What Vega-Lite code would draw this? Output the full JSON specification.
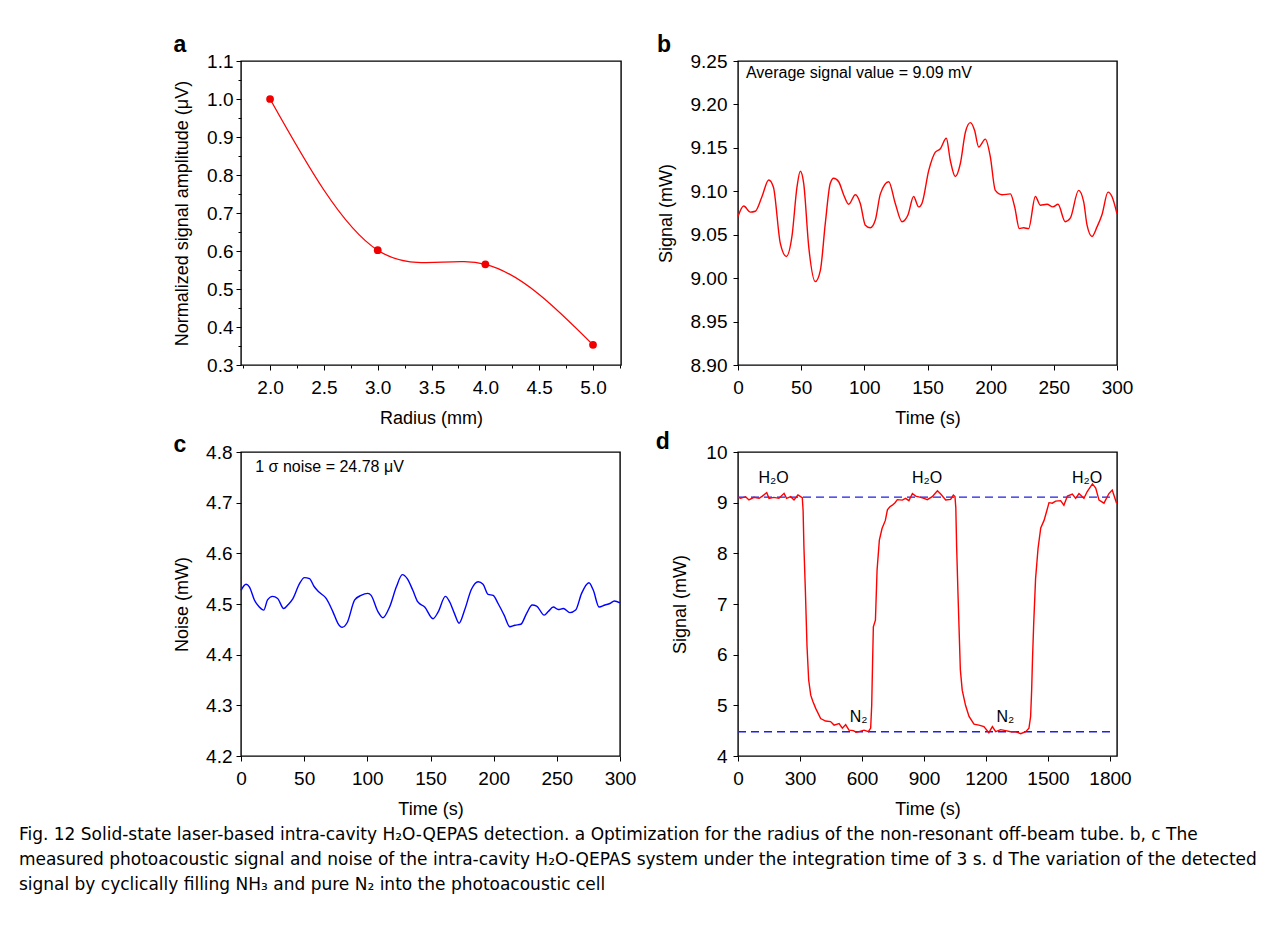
{
  "$schema": "https://vega.github.io/schema/vega-lite/v6.json",
  "background": "white",
  "padding": {"left": 18, "top": 33, "right": 5, "bottom": 5},
  "config": {
    "font": "Liberation Sans",
    "view": {"stroke": "black", "strokeWidth": 1.4},
    "axis": {
      "grid": false,
      "domain": false,
      "tickColor": "black",
      "tickWidth": 1,
      "labelColor": "black",
      "titleColor": "black",
      "labelFont": "Liberation Sans",
      "titleFont": "Liberation Sans",
      "labelFontSize": 19,
      "titleFontSize": 18,
      "titleFontWeight": "normal",
      "labelFlush": false,
      "labelOverlap": false,
      "labelBound": false
    },
    "axisX": {"labelPadding": 8, "titlePadding": 12},
    "title": {"anchor": "start", "frame": "bounds", "fontSize": 23, "fontWeight": "bold", "color": "black", "baseline": "alphabetic", "offset": -5, "font": "Liberation Sans"}
  },
  "datasets": {
    "a": [
      {"r": 2.0, "s": 1.0},
      {"r": 3.0, "s": 0.602},
      {"r": 4.0, "s": 0.565},
      {"r": 5.0, "s": 0.353}
    ],
    "b": [
      {"t": 0, "v": 9.071}, {"t": 4.5, "v": 9.083}, {"t": 9.8, "v": 9.076}, {"t": 13.7, "v": 9.077},
      {"t": 19, "v": 9.094}, {"t": 24.3, "v": 9.113}, {"t": 28, "v": 9.105}, {"t": 33.5, "v": 9.04},
      {"t": 38.3, "v": 9.025}, {"t": 42.7, "v": 9.048}, {"t": 46.7, "v": 9.105}, {"t": 49.3, "v": 9.123},
      {"t": 52, "v": 9.109}, {"t": 56, "v": 9.036}, {"t": 61.2, "v": 8.996}, {"t": 65.2, "v": 9.009},
      {"t": 69.1, "v": 9.063}, {"t": 73, "v": 9.109}, {"t": 75.7, "v": 9.115}, {"t": 79.7, "v": 9.111},
      {"t": 83.6, "v": 9.096}, {"t": 87.6, "v": 9.085}, {"t": 92.9, "v": 9.096}, {"t": 96.8, "v": 9.086},
      {"t": 100.8, "v": 9.061}, {"t": 104.7, "v": 9.058}, {"t": 108.7, "v": 9.067}, {"t": 112.7, "v": 9.097},
      {"t": 119.3, "v": 9.111}, {"t": 124.5, "v": 9.086}, {"t": 129.8, "v": 9.065}, {"t": 134.6, "v": 9.073},
      {"t": 139, "v": 9.094}, {"t": 143, "v": 9.082}, {"t": 145.6, "v": 9.086}, {"t": 151, "v": 9.124},
      {"t": 156.2, "v": 9.145}, {"t": 160.2, "v": 9.149}, {"t": 164.9, "v": 9.161}, {"t": 168, "v": 9.136},
      {"t": 172, "v": 9.117}, {"t": 176, "v": 9.132}, {"t": 180, "v": 9.168}, {"t": 183.9, "v": 9.179},
      {"t": 187.3, "v": 9.17}, {"t": 190.5, "v": 9.151}, {"t": 195.8, "v": 9.16}, {"t": 199.7, "v": 9.14},
      {"t": 203.7, "v": 9.101}, {"t": 209, "v": 9.096}, {"t": 215.6, "v": 9.097}, {"t": 219, "v": 9.082},
      {"t": 222.7, "v": 9.057}, {"t": 226.1, "v": 9.058}, {"t": 230, "v": 9.057}, {"t": 235.4, "v": 9.094},
      {"t": 239.3, "v": 9.084}, {"t": 244.6, "v": 9.085}, {"t": 249.3, "v": 9.082}, {"t": 253.3, "v": 9.085},
      {"t": 259, "v": 9.065}, {"t": 263, "v": 9.069}, {"t": 269.6, "v": 9.101}, {"t": 273.6, "v": 9.088},
      {"t": 276.3, "v": 9.061}, {"t": 280.2, "v": 9.048}, {"t": 284.2, "v": 9.059}, {"t": 288.1, "v": 9.073},
      {"t": 292.9, "v": 9.099}, {"t": 296, "v": 9.094}, {"t": 300, "v": 9.074}
    ],
    "c": [
      {"t": 0, "v": 4.527}, {"t": 4, "v": 4.539}, {"t": 6.6, "v": 4.534}, {"t": 10.6, "v": 4.508},
      {"t": 14.5, "v": 4.494}, {"t": 18, "v": 4.488}, {"t": 21, "v": 4.508}, {"t": 25, "v": 4.515},
      {"t": 29, "v": 4.511}, {"t": 33.8, "v": 4.491}, {"t": 37, "v": 4.498}, {"t": 41, "v": 4.51},
      {"t": 46.3, "v": 4.54}, {"t": 50.2, "v": 4.552}, {"t": 54.2, "v": 4.55}, {"t": 58, "v": 4.534},
      {"t": 62, "v": 4.523}, {"t": 67.4, "v": 4.511}, {"t": 72.7, "v": 4.485}, {"t": 76.7, "v": 4.462},
      {"t": 80, "v": 4.454}, {"t": 84, "v": 4.463}, {"t": 90, "v": 4.508}, {"t": 95, "v": 4.517},
      {"t": 100.4, "v": 4.521}, {"t": 103, "v": 4.517}, {"t": 108.4, "v": 4.485}, {"t": 112.3, "v": 4.473},
      {"t": 117.6, "v": 4.494}, {"t": 123, "v": 4.534}, {"t": 127.7, "v": 4.558}, {"t": 131.6, "v": 4.55},
      {"t": 136, "v": 4.527}, {"t": 140, "v": 4.504}, {"t": 145.4, "v": 4.494}, {"t": 152, "v": 4.471},
      {"t": 156, "v": 4.484}, {"t": 161.8, "v": 4.515}, {"t": 165.2, "v": 4.504}, {"t": 169, "v": 4.481},
      {"t": 172.6, "v": 4.462}, {"t": 177, "v": 4.488}, {"t": 182.4, "v": 4.529}, {"t": 187.7, "v": 4.544},
      {"t": 191.6, "v": 4.539}, {"t": 195.6, "v": 4.519}, {"t": 199.6, "v": 4.517}, {"t": 203.5, "v": 4.501},
      {"t": 208.3, "v": 4.478}, {"t": 212.8, "v": 4.455}, {"t": 216.8, "v": 4.458}, {"t": 221.5, "v": 4.46},
      {"t": 226, "v": 4.481}, {"t": 230.5, "v": 4.498}, {"t": 234, "v": 4.496}, {"t": 240, "v": 4.478},
      {"t": 243.2, "v": 4.485}, {"t": 247.2, "v": 4.494}, {"t": 251.1, "v": 4.489}, {"t": 255.1, "v": 4.491},
      {"t": 260.4, "v": 4.483}, {"t": 264.9, "v": 4.488}, {"t": 269.6, "v": 4.521}, {"t": 275.4, "v": 4.542},
      {"t": 278.9, "v": 4.527}, {"t": 283.4, "v": 4.494}, {"t": 288.1, "v": 4.498}, {"t": 292, "v": 4.501},
      {"t": 295.5, "v": 4.506}, {"t": 300, "v": 4.502}
    ],
    "d": [
      {"t": 0, "v": 9.11}, {"t": 13, "v": 9.085}, {"t": 37, "v": 9.118}, {"t": 53, "v": 9.053},
      {"t": 77, "v": 9.105}, {"t": 102, "v": 9.085}, {"t": 118, "v": 9.13}, {"t": 139, "v": 9.2},
      {"t": 150, "v": 9.085}, {"t": 174, "v": 9.105}, {"t": 198, "v": 9.085}, {"t": 223, "v": 9.184},
      {"t": 235, "v": 9.085}, {"t": 255, "v": 9.118}, {"t": 271, "v": 9.053}, {"t": 290, "v": 9.151},
      {"t": 303, "v": 9.118}, {"t": 311, "v": 9.1}, {"t": 315, "v": 8.85}, {"t": 319, "v": 8.13},
      {"t": 326, "v": 7.27}, {"t": 334, "v": 6.16}, {"t": 342, "v": 5.5}, {"t": 352, "v": 5.2},
      {"t": 362, "v": 5.08}, {"t": 376, "v": 4.94}, {"t": 400, "v": 4.74}, {"t": 424, "v": 4.69},
      {"t": 448, "v": 4.68}, {"t": 465, "v": 4.61}, {"t": 489, "v": 4.64}, {"t": 505, "v": 4.55},
      {"t": 521, "v": 4.62}, {"t": 537, "v": 4.51}, {"t": 558, "v": 4.5}, {"t": 572, "v": 4.47},
      {"t": 586, "v": 4.48}, {"t": 610, "v": 4.51}, {"t": 631, "v": 4.48}, {"t": 642, "v": 4.55},
      {"t": 647, "v": 5.0}, {"t": 651, "v": 5.8}, {"t": 655, "v": 6.55}, {"t": 665, "v": 6.68},
      {"t": 673, "v": 7.67}, {"t": 684, "v": 8.26}, {"t": 697, "v": 8.49}, {"t": 713, "v": 8.65},
      {"t": 723, "v": 8.86}, {"t": 735, "v": 8.92}, {"t": 747, "v": 8.95}, {"t": 760, "v": 9.0},
      {"t": 771, "v": 9.06}, {"t": 795, "v": 9.05}, {"t": 811, "v": 9.085}, {"t": 827, "v": 9.04},
      {"t": 844, "v": 9.18}, {"t": 860, "v": 9.13}, {"t": 884, "v": 9.105}, {"t": 900, "v": 9.085},
      {"t": 916, "v": 9.06}, {"t": 940, "v": 9.118}, {"t": 965, "v": 9.236}, {"t": 981, "v": 9.17},
      {"t": 1005, "v": 9.053}, {"t": 1029, "v": 9.066}, {"t": 1042, "v": 9.15}, {"t": 1050, "v": 9.12},
      {"t": 1054, "v": 8.9}, {"t": 1058, "v": 8.13}, {"t": 1065, "v": 7.14}, {"t": 1076, "v": 5.7},
      {"t": 1085, "v": 5.3}, {"t": 1101, "v": 5.0}, {"t": 1118, "v": 4.78}, {"t": 1142, "v": 4.63},
      {"t": 1166, "v": 4.61}, {"t": 1190, "v": 4.58}, {"t": 1214, "v": 4.46}, {"t": 1231, "v": 4.58},
      {"t": 1247, "v": 4.48}, {"t": 1271, "v": 4.52}, {"t": 1295, "v": 4.5}, {"t": 1319, "v": 4.48},
      {"t": 1343, "v": 4.48}, {"t": 1368, "v": 4.44}, {"t": 1392, "v": 4.48}, {"t": 1408, "v": 4.55},
      {"t": 1416, "v": 4.78}, {"t": 1421, "v": 5.3}, {"t": 1425, "v": 5.9}, {"t": 1431, "v": 6.62},
      {"t": 1440, "v": 7.5}, {"t": 1452, "v": 8.1}, {"t": 1465, "v": 8.5}, {"t": 1481, "v": 8.65},
      {"t": 1495, "v": 8.85}, {"t": 1505, "v": 9.0}, {"t": 1521, "v": 8.99}, {"t": 1537, "v": 9.03},
      {"t": 1561, "v": 9.04}, {"t": 1577, "v": 8.95}, {"t": 1594, "v": 9.13}, {"t": 1618, "v": 9.17},
      {"t": 1634, "v": 9.085}, {"t": 1650, "v": 9.18}, {"t": 1674, "v": 9.085}, {"t": 1690, "v": 9.22},
      {"t": 1715, "v": 9.37}, {"t": 1731, "v": 9.29}, {"t": 1747, "v": 9.05}, {"t": 1771, "v": 8.99},
      {"t": 1795, "v": 9.18}, {"t": 1811, "v": 9.25}, {"t": 1832, "v": 8.99}
    ],
    "dref": [
      {"t0": 0, "t1": 1800, "v": 9.11},
      {"t0": 0, "t1": 1800, "v": 4.48}
    ],
    "dlab": [
      {"t": 172, "v": 9.48, "label": "H₂O"},
      {"t": 915, "v": 9.48, "label": "H₂O"},
      {"t": 1689, "v": 9.48, "label": "H₂O"},
      {"t": 584, "v": 4.76, "label": "N₂"},
      {"t": 1294, "v": 4.76, "label": "N₂"}
    ],
    "blab": [{"t": 6.3, "v": 9.236, "label": "Average signal value = 9.09 mV"}],
    "clab": [{"t": 11.3, "v": 4.771, "label": "1 σ noise = 24.78 μV"}]
  },
  "title": {
    "text": [
      "Fig. 12 Solid-state laser-based intra-cavity H₂O-QEPAS detection. a Optimization for the radius of the non-resonant off-beam tube. b, c The",
      "measured photoacoustic signal and noise of the intra-cavity H₂O-QEPAS system under the integration time of 3 s. d The variation of the detected",
      "signal by cyclically filling NH₃ and pure N₂ into the photoacoustic cell"
    ],
    "orient": "bottom",
    "anchor": "start",
    "frame": "bounds",
    "dx": -154,
    "offset": 8,
    "font": "DejaVu Sans",
    "fontSize": 17,
    "fontWeight": "normal",
    "lineHeight": 25,
    "baseline": "top",
    "color": "black"
  },
  "columns": 2,
  "spacing": {"row": 2, "column": 18},
  "concat": [
    {
      "title": {"text": "a"},
      "width": 380,
      "height": 304,
      "data": {"name": "a"},
      "encoding": {
        "x": {"field": "r", "type": "quantitative",
          "scale": {"domain": [1.73, 5.26], "nice": false, "zero": false},
          "axis": {"title": "Radius (mm)",
            "values": [1.75, 2, 2.25, 2.5, 2.75, 3, 3.25, 3.5, 3.75, 4, 4.25, 4.5, 4.75, 5, 5.25],
            "tickSize": {"condition": {"test": "abs(datum.value*2-round(datum.value*2))<0.001", "value": 5}, "value": 3},
            "labelExpr": "abs(datum.value*2-round(datum.value*2))<0.001 ? format(datum.value,'.1f') : ''"}},
        "y": {"field": "s", "type": "quantitative",
          "scale": {"domain": [0.3, 1.1], "nice": false, "zero": false},
          "axis": {"title": "Normalized signal amplitude (μV)",
            "values": [0.3, 0.35, 0.4, 0.45, 0.5, 0.55, 0.6, 0.65, 0.7, 0.75, 0.8, 0.85, 0.9, 0.95, 1.0, 1.05, 1.1],
            "labelPadding": 3, "titlePadding": 15,
            "tickSize": {"condition": {"test": "abs(datum.value*10-round(datum.value*10))<0.001", "value": 5}, "value": 3},
            "labelExpr": "abs(datum.value*10-round(datum.value*10))<0.001 ? format(datum.value,'.1f') : ''"}}
      },
      "layer": [
        {"mark": {"type": "line", "interpolate": "natural", "color": "#ff0000", "strokeWidth": 1.3}},
        {"mark": {"type": "point", "filled": true, "color": "#f00000", "size": 60, "opacity": 1}}
      ]
    },
    {
      "title": {"text": "b"},
      "width": 379,
      "height": 304,
      "layer": [
        {
          "data": {"name": "b"},
          "mark": {"type": "line", "interpolate": "monotone", "color": "#ff0000", "strokeWidth": 1.4},
          "encoding": {
            "x": {"field": "t", "type": "quantitative",
              "scale": {"domain": [0, 300], "nice": false},
              "axis": {"title": "Time (s)",
                "values": [0, 25, 50, 75, 100, 125, 150, 175, 200, 225, 250, 275, 300],
                "tickSize": {"condition": {"test": "datum.value % 50 == 0", "value": 5}, "value": 3},
                "labelExpr": "datum.value % 50 == 0 ? format(datum.value,'d') : ''"}},
            "y": {"field": "v", "type": "quantitative",
              "scale": {"domain": [8.9, 9.25], "nice": false, "zero": false},
              "axis": {"title": "Signal (mW)",
                "values": [8.9, 8.925, 8.95, 8.975, 9.0, 9.025, 9.05, 9.075, 9.1, 9.125, 9.15, 9.175, 9.2, 9.225, 9.25],
                "labelPadding": 6, "titlePadding": 15,
                "tickSize": {"condition": {"test": "abs(datum.value*20-round(datum.value*20))<0.001", "value": 5}, "value": 3},
                "labelExpr": "abs(datum.value*20-round(datum.value*20))<0.001 ? format(datum.value,'.2f') : ''"}}
          }
        },
        {
          "data": {"name": "blab"},
          "mark": {"type": "text", "align": "left", "baseline": "middle", "fontSize": 16, "color": "black"},
          "encoding": {
            "x": {"field": "t", "type": "quantitative"},
            "y": {"field": "v", "type": "quantitative"},
            "text": {"field": "label"}
          }
        }
      ]
    },
    {
      "title": {"text": "c", "offset": -14},
      "width": 379,
      "height": 304,
      "layer": [
        {
          "data": {"name": "c"},
          "mark": {"type": "line", "interpolate": "monotone", "color": "#0000ff", "strokeWidth": 1.4},
          "encoding": {
            "x": {"field": "t", "type": "quantitative",
              "scale": {"domain": [0, 300], "nice": false},
              "axis": {"title": "Time (s)",
                "values": [0, 25, 50, 75, 100, 125, 150, 175, 200, 225, 250, 275, 300],
                "tickSize": {"condition": {"test": "datum.value % 50 == 0", "value": 5}, "value": 3},
                "labelExpr": "datum.value % 50 == 0 ? format(datum.value,'d') : ''"}},
            "y": {"field": "v", "type": "quantitative",
              "scale": {"domain": [4.2, 4.8], "nice": false, "zero": false},
              "axis": {"title": "Noise (mW)",
                "values": [4.2, 4.25, 4.3, 4.35, 4.4, 4.45, 4.5, 4.55, 4.6, 4.65, 4.7, 4.75, 4.8],
                "labelPadding": 4, "titlePadding": 14,
                "tickSize": {"condition": {"test": "abs(datum.value*10-round(datum.value*10))<0.001", "value": 5}, "value": 3},
                "labelExpr": "abs(datum.value*10-round(datum.value*10))<0.001 ? format(datum.value,'.1f') : ''"}}
          }
        },
        {
          "data": {"name": "clab"},
          "mark": {"type": "text", "align": "left", "baseline": "middle", "fontSize": 16, "color": "black"},
          "encoding": {
            "x": {"field": "t", "type": "quantitative"},
            "y": {"field": "v", "type": "quantitative"},
            "text": {"field": "label"}
          }
        }
      ]
    },
    {
      "title": {"text": "d", "offset": -11, "dx": -16},
      "width": 379,
      "height": 304,
      "layer": [
        {
          "data": {"name": "dref"},
          "mark": {"type": "rule", "color": "#1f1fe6", "strokeWidth": 1.4, "strokeDash": [8, 5]},
          "encoding": {
            "x": {"field": "t0", "type": "quantitative"},
            "x2": {"field": "t1"},
            "y": {"field": "v", "type": "quantitative"}
          }
        },
        {
          "data": {"name": "d"},
          "mark": {"type": "line", "color": "#ff0000", "strokeWidth": 1.4},
          "encoding": {
            "x": {"field": "t", "type": "quantitative",
              "scale": {"domain": [0, 1834], "nice": false},
              "axis": {"title": "Time (s)",
                "values": [0, 150, 300, 450, 600, 750, 900, 1050, 1200, 1350, 1500, 1650, 1800],
                "tickSize": {"condition": {"test": "datum.value % 300 == 0", "value": 5}, "value": 3},
                "labelExpr": "datum.value % 300 == 0 ? format(datum.value,'d') : ''"}},
            "y": {"field": "v", "type": "quantitative",
              "scale": {"domain": [4, 10], "nice": false, "zero": false},
              "axis": {"title": "Signal (mW)",
                "values": [4, 4.5, 5, 5.5, 6, 6.5, 7, 7.5, 8, 8.5, 9, 9.5, 10],
                "labelPadding": 6, "titlePadding": 16,
                "tickSize": {"condition": {"test": "datum.value % 1 == 0", "value": 5}, "value": 3},
                "labelExpr": "datum.value % 1 == 0 ? format(datum.value,'d') : ''"}}
          }
        },
        {
          "data": {"name": "dlab"},
          "mark": {"type": "text", "align": "center", "baseline": "middle", "fontSize": 16, "color": "black"},
          "encoding": {
            "x": {"field": "t", "type": "quantitative"},
            "y": {"field": "v", "type": "quantitative"},
            "text": {"field": "label"}
          }
        }
      ]
    }
  ]
}
